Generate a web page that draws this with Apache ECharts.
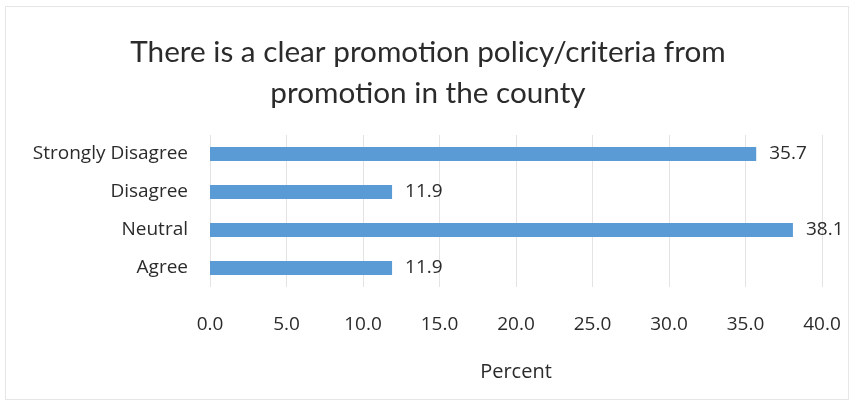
<!DOCTYPE html>
<html>
<head>
<meta charset="utf-8">
<script src="https://cdn.jsdelivr.net/npm/echarts@6/dist/echarts.min.js"></script>
<style>
  html, body { margin: 0; padding: 0; background: #fff; }
  #frame { position: absolute; left: 5px; top: 6px; width: 844px; height: 394px; border: 1px solid #e6e6e6; box-sizing: border-box; }
  #chart { width: 856px; height: 408px; }
</style>
</head>
<body>
<div id="frame"></div>
<div id="chart"></div>
<script>
// Response categories, top to bottom
const categories = ['Strongly Disagree', 'Disagree', 'Neutral', 'Agree'];
// Share of respondents (%)
const percentValues = [35.7, 11.9, 38.1, 11.9];
const titleText = 'There is a clear promotion policy/criteria from\npromotion in the county';
const axisName = 'Percent';

const chart = echarts.init(document.getElementById('chart'), null, { renderer: 'canvas' });
const labelFont = '"Open Sans", sans-serif';
const titleFont = 'Lato, "Open Sans", sans-serif';

chart.setOption({
  animation: false,
  backgroundColor: 'transparent',
  title: {
    text: titleText,
    left: 'center',
    top: 27,
    textStyle: { fontFamily: titleFont, fontSize: 29.7, fontWeight: 'normal', color: '#2b2b2b', lineHeight: 41 }
  },
  grid: { left: 210, right: 34, top: 135, bottom: 121, containLabel: false },
  xAxis: {
    type: 'value',
    min: 0, max: 40, interval: 5,
    name: axisName,
    nameLocation: 'middle',
    nameGap: 75,
    nameTextStyle: { fontFamily: labelFont, fontSize: 20, color: '#2b2b2b' },
    axisLine: { show: false },
    axisTick: { show: false },
    axisLabel: { formatter: v => v.toFixed(1), fontFamily: labelFont, fontSize: 19, color: '#2b2b2b', margin: 28 },
    splitLine: { lineStyle: { color: '#e3e3e3', width: 1 } }
  },
  yAxis: {
    type: 'category',
    data: categories,
    inverse: true,
    axisLine: { show: false },
    axisTick: { show: false },
    axisLabel: { fontFamily: labelFont, fontSize: 19, color: '#2b2b2b', margin: 22 }
  },
  series: [{
    type: 'bar',
    data: percentValues,
    barWidth: 14,
    itemStyle: { color: '#5B9BD5' },
    label: {
      show: true, position: 'right', distance: 13,
      formatter: p => p.value.toFixed(1),
      fontFamily: labelFont, fontSize: 19, color: '#2b2b2b'
    }
  }]
});
</script>
</body>
</html>
